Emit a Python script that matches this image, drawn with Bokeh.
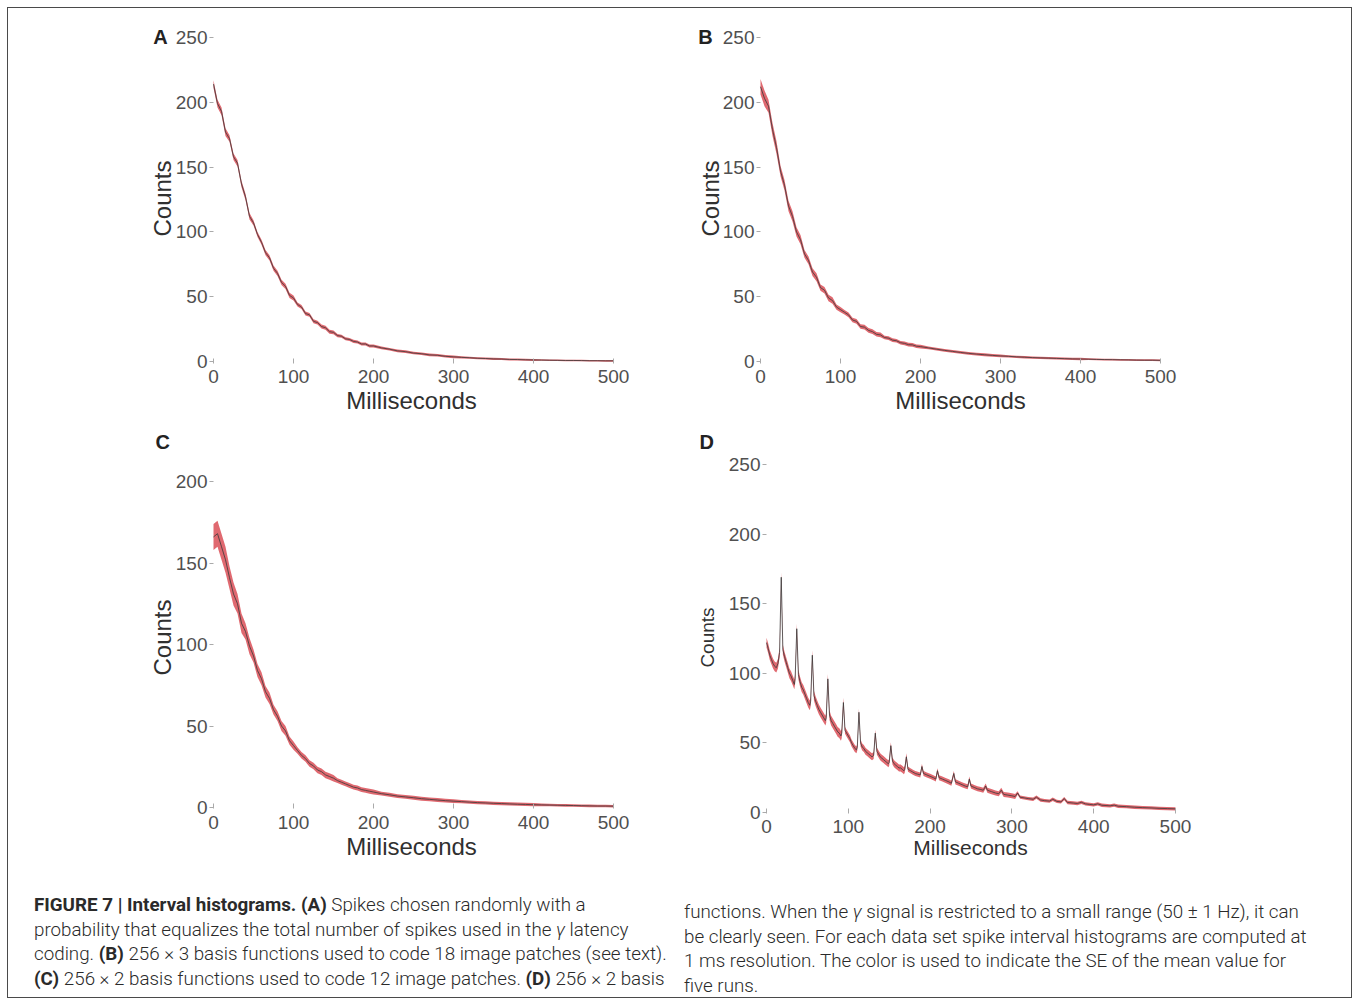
from bokeh.plotting import figure
from bokeh.models import Div, FixedTicker
from bokeh.layouts import row, column
from bokeh.embed import file_html
from bokeh.resources import INLINE
from bokeh.core.properties import value

# ---------------- data ----------------
# time grid in ms for panels A-C
t_abc = list(range(0, 201, 5)) + list(range(210, 501, 10))

A_mean = [214, 199, 193, 177, 172, 158, 153, 137, 127, 112, 107, 98, 92, 84, 80, 72, 68, 61, 58, 51, 49,
          44, 42, 37, 36, 31, 30, 27, 26, 23, 22.5, 20, 19.5, 17.5, 17, 15.5, 15, 13.5, 13.5, 12, 12,
          10.5, 9.5, 8.2, 7.6, 6.5, 6, 5.1, 4.8, 4, 3.6, 3.2, 2.9, 2.5, 2.3, 2, 1.9, 1.6, 1.5, 1.3, 1.2,
          1.1, 1, 0.9, 0.8, 0.8, 0.7, 0.6, 0.6, 0.5, 0.5]
A_se = [3] * 4 + [2.5] * 6 + [2] * 11 + [1.5] * 10 + [1.2] * 10 + [1] * 10 + [0.8] * 10 + [0.6] * 10

B_mean = [212, 203, 197, 179, 165, 147, 136, 120, 112, 100, 94, 83, 78, 69, 65, 57, 55, 49, 47, 42, 40,
          38, 36, 32, 31, 27, 26.5, 24, 23, 21, 20.5, 18.5, 18, 16.5, 16, 14.5, 14, 13, 12.8, 11.8, 11.5,
          10.5, 9.5, 8.6, 7.8, 7, 6.3, 5.7, 5.2, 4.7, 4.3, 4, 3.6, 3.3, 3, 2.8, 2.6, 2.4, 2.2, 2, 1.9,
          1.8, 1.6, 1.5, 1.4, 1.3, 1.2, 1.1, 1.0, 1.0, 0.9]
B_se = [6] * 2 + [5] * 3 + [4] * 4 + [3.5] * 2 + [3] * 4 + [2.5] * 4 + [2] * 2 + [1.8] * 10 + [1.4] * 10 \
       + [1.1] * 10 + [0.9] * 10 + [0.7] * 10

C_mean = [166, 168, 160, 152, 141, 131, 125, 113, 108, 99, 93, 84, 79, 71, 67, 60, 56, 50, 47, 41, 38,
          35, 32, 30, 27, 25.5, 23, 22, 20, 19, 18, 16.5, 15.5, 14.5, 13.5, 12.5, 12, 11, 10.5, 10, 9.5,
          8.5, 7.8, 7, 6.5, 6, 5.4, 5, 4.6, 4.2, 3.9, 3.6, 3.3, 3, 2.8, 2.6, 2.4, 2.2, 2, 1.9, 1.7,
          1.6, 1.5, 1.4, 1.3, 1.2, 1.1, 1, 0.9, 0.9, 0.8]
C_se = [8] * 4 + [7] * 2 + [6] * 2 + [5] * 2 + [4] * 3 + [3.5] * 2 + [3] * 4 + [2.5] * 2 + [2] * 10 \
       + [1.5] * 10 + [1.2] * 10 + [1] * 10 + [0.8] * 10

D_t = [0, 2, 4, 6, 8, 10, 12, 14, 16, 18,
       20, 22, 24, 26, 28, 30, 32, 34, 35, 37,
       39, 41, 43, 45, 47, 49, 51, 53, 54, 56,
       58, 60, 62, 64, 66, 68, 70, 72, 73, 75,
       77, 79, 81, 83, 85, 87, 89, 91, 92, 94,
       96, 98, 100, 102, 104, 106, 108, 110, 111, 113,
       115, 117, 119, 121, 123, 125, 127, 129, 131, 133,
       135, 137, 139, 141, 143, 145, 147, 149, 150, 152,
       154, 156, 158, 160, 162, 164, 166, 168, 169, 171,
       173, 176, 179, 182, 185, 188, 190, 192, 196, 200,
       204, 207, 209, 211, 215, 219, 223, 226, 229, 231,
       235, 239, 243, 246, 248, 250, 254, 258, 262, 265,
       268, 270, 275, 280, 284, 287, 290, 295, 300, 304,
       307, 310, 315, 320, 326, 330, 335, 340, 346, 350,
       355, 360, 364, 368, 375, 380, 385, 390, 395, 400,
       405, 410, 420, 425, 430, 440, 450, 460, 470, 480,
       490, 500]
D_mean = [122, 118, 113, 110, 107, 105, 104, 107, 115, 169,
          117, 112, 108, 104, 100, 98, 95, 92, 96, 132,
          99, 94, 90, 88, 85, 82, 79, 77, 80, 113,
          84, 80, 77, 74, 72, 70, 68, 66, 68, 96,
          70, 66, 64, 62, 60, 58, 57, 55, 57, 79,
          59, 57, 55, 53, 50, 48, 46, 45, 47, 72,
          50, 47, 46, 44, 43, 42, 41, 40, 41, 57,
          44, 42, 40, 39, 38, 37, 36, 35, 36, 48,
          37, 35, 34, 33, 32, 32, 31, 30, 31, 40,
          31, 30, 29, 28, 27.5, 27, 33, 28, 27, 26,
          25, 24, 30, 25, 24, 23, 22, 21, 28, 22,
          21, 20, 19, 18.5, 24, 19, 18, 17, 16.5, 16,
          19, 16, 15, 14, 13.5, 16, 13, 12.5, 12, 11.5,
          14, 11, 10.5, 10, 9.5, 11, 9, 8.5, 8.2, 9.5,
          8, 7.6, 10, 7.2, 6.8, 6.5, 7.3, 6.2, 5.8, 5.5,
          6.2, 5.2, 4.8, 5.3, 4.5, 4.2, 3.8, 3.5, 3.3, 3.0,
          2.8, 2.6]
D_se = [3.5] * 50 + [2.5] * 40 + [1.8] * 40 + [1.2] * 32

x_ticks = [0, 100, 200, 300, 400, 500]
y_ticks_ABD = [0, 50, 100, 150, 200, 250]
y_ticks_C = [0, 50, 100, 150, 200]

FONT = "Liberation Sans"
BAND = "#d8434c"
LINE = "#3a3a3a"


def panel(letter, xs, mean, se, yticks, xr, yr, fw, fh, bl, br, bt, bb,
          tick_in, tick_out, xlab_standoff, ylabel_standoff, letter_pos=None, title_offset=None,
          tick_fs="19px", xl_fs="24px", yl_fs="24px", xl_standoff=1):
    p = figure(frame_width=fw, frame_height=fh, x_range=xr, y_range=yr,
               output_backend="svg", toolbar_location=None,
               min_border_left=bl, min_border_right=br, min_border_top=bt, min_border_bottom=bb)
    p.outline_line_color = None
    p.grid.visible = False
    p.background_fill_color = "white"
    lower = [m - s for m, s in zip(mean, se)]
    upper = [m + s for m, s in zip(mean, se)]
    p.varea(x=xs, y1=lower, y2=upper, fill_color=BAND, fill_alpha=0.8)
    p.line(xs, mean, line_color=LINE, line_width=1, line_alpha=0.8)
    p.xaxis.ticker = FixedTicker(ticks=x_ticks)
    p.yaxis.ticker = FixedTicker(ticks=yticks)
    p.yaxis.fixed_location = 0
    p.xaxis.axis_label = "Milliseconds"
    p.yaxis.axis_label = "Counts"
    for ax in (p.xaxis[0], p.yaxis[0]):
        ax.axis_line_color = None
        ax.major_tick_line_color = "#aaaaaa"
        ax.minor_tick_line_color = None
        ax.major_label_text_font = FONT
        ax.major_label_text_font_size = tick_fs
        ax.major_label_text_color = "#505050"
        ax.axis_label_text_font = FONT
        ax.axis_label_text_font_style = "normal"
        ax.axis_label_text_color = "#303030"
    p.yaxis.major_tick_in = 0
    p.yaxis.major_tick_out = 4
    p.xaxis.major_tick_in = tick_in
    p.xaxis.major_tick_out = tick_out
    p.xaxis.major_label_standoff = xlab_standoff
    p.yaxis.major_label_standoff = 2
    p.xaxis.axis_label_standoff = xl_standoff
    p.yaxis.axis_label_standoff = ylabel_standoff
    p.xaxis.axis_label_text_font_size = xl_fs
    p.yaxis.axis_label_text_font_size = yl_fs
    if letter_pos is not None:
        p.text(x=[letter_pos[0]], y=[letter_pos[1]], text=[letter], text_font=value(FONT),
               text_font_style="bold", text_font_size="20px", text_color="#222222",
               text_align="center", text_baseline="middle")
    else:
        p.title.text = letter
        p.title.align = "left"
        p.title.offset = title_offset
        p.title.standoff = 0
        p.title.text_font = FONT
        p.title.text_font_style = "bold"
        p.title.text_font_size = "20px"
        p.title.text_color = "#222222"
    return p


# A/C: x=0 at 213px, 0.8 px/ms; B: x=0 at 760px; D: x=0 at 766px, 0.818 px/ms
pA = panel("A", t_abc, A_mean, A_se, y_ticks_ABD, (-91.25, 586.25), (-8.49, 260), 542, 348, 132, 0, 16, 53,
           14, -9, -3, -3, letter_pos=(-66.25, 250))
pB = panel("B", t_abc, B_mean, B_se, y_ticks_ABD, (-87.5, 587.5), (-8.49, 260), 540, 348, 8, 121, 16, 53,
           14, -9, -3, -4, letter_pos=(-68.75, 250))
pC = panel("C", t_abc, C_mean, C_se, y_ticks_C, (-91.25, 586.25), (-9.2, 217.8), 542, 370, 132, 0, 27, 49,
           19, -14, -7, -3, title_offset=15)
pD = panel("D", D_t, D_mean, D_se, y_ticks_ABD, (-85.6, 584.4), (-7.18, 258.6), 548, 370, 14, 107, 27, 49,
           14, -9, -3, 8, title_offset=3, xl_fs="21px", yl_fs="19px", xl_standoff=0)

cap_style = ("font-family: Roboto, 'Liberation Sans', sans-serif; font-weight: 300; "
             "font-size: 18.8px; line-height: 24.5px; color: #2a2a2a; white-space: nowrap;")
left_txt = (f"<div style=\"{cap_style} padding-left: 26px; padding-top: 22px;\">"
            "<b style='font-weight:700'>FIGURE 7 | Interval histograms. (A)</b> Spikes chosen randomly with a<br>"
            "probability that equalizes the total number of spikes used in the <i>&gamma;</i> latency<br>"
            "coding. <b style='font-weight:700'>(B)</b> 256 &times; 3 basis functions used to code 18 image patches (see text).<br>"
            "<b style='font-weight:700'>(C)</b> 256 &times; 2 basis functions used to code 12 image patches. "
            "<b style='font-weight:700'>(D)</b> 256 &times; 2 basis</div>")
right_txt = (f"<div style=\"{cap_style} padding-left: 2px; padding-top: 29px;\">"
             "functions. When the <i>&gamma;</i> signal is restricted to a small range (50 &plusmn; 1 Hz), it can<br>"
             "be clearly seen. For each data set spike interval histograms are computed at<br>"
             "1 ms resolution. The color is used to indicate the SE of the mean value for<br>"
             "five runs.</div>")
capL = Div(text=left_txt, width=674, height=126, margin=0)
capR = Div(text=right_txt, width=669, height=126, margin=0)

layout = column(row(pA, pB, spacing=0), row(pC, pD, spacing=0), row(capL, capR, spacing=0),
                spacing=0, margin=(7, 0, 0, 7),
                styles={"border": "1px solid #4a4a4a", "background-color": "white"})

open("out.html", "w").write(file_html(layout, INLINE))
